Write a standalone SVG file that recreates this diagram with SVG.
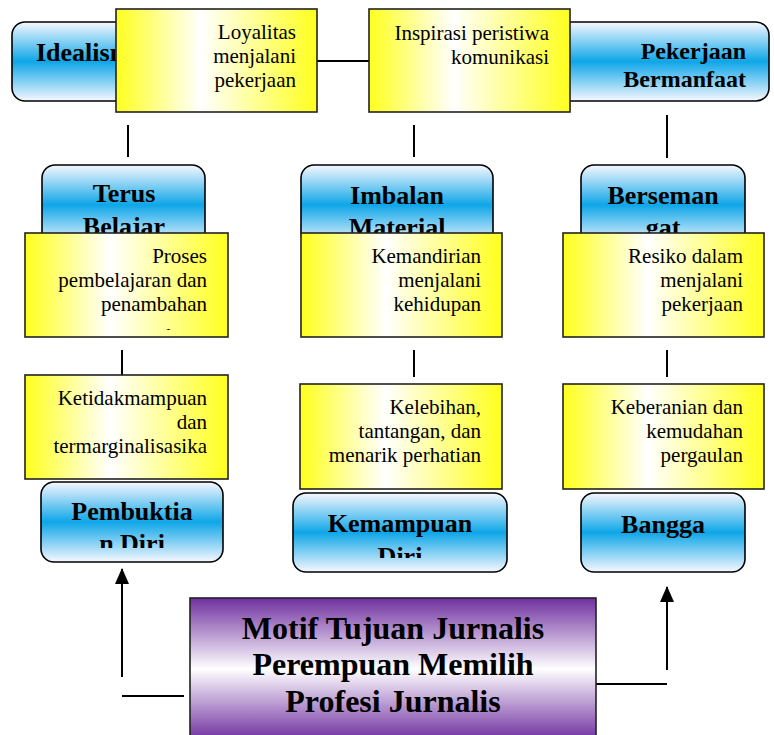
<svg xmlns="http://www.w3.org/2000/svg" width="774" height="735" viewBox="0 0 774 735">
<style>
.blue{fill:url(#gBlue);stroke:#000;stroke-width:1.6}
.yel{fill:url(#gYel);stroke:#222;stroke-width:1.6}
.pur{fill:url(#gPur);stroke:#222;stroke-width:1.6}
text{font-family:"Liberation Serif","DejaVu Serif","Times New Roman",serif}
.t{font-size:21px;fill:#000;text-anchor:end}
.b{font-weight:bold;font-size:26px;fill:#000;text-anchor:middle}
.h{font-weight:bold;font-size:32px;fill:#000;text-anchor:middle}
.ln{stroke:#000;stroke-width:2;fill:none}
</style>
<defs>
<linearGradient id="gBlue" x1="0" y1="0" x2="0" y2="1">
<stop offset="0" stop-color="#f7f8ff"/>
<stop offset="0.5" stop-color="#0ea6e8"/>
<stop offset="1" stop-color="#f7f8ff"/>
</linearGradient>
<linearGradient id="gYel" x1="0" y1="0" x2="1" y2="0">
<stop offset="0" stop-color="#ffff1e"/>
<stop offset="0.42" stop-color="#ffffff"/>
<stop offset="1" stop-color="#ffff1e"/>
</linearGradient>
<linearGradient id="gPur" x1="0" y1="0" x2="0" y2="1">
<stop offset="0" stop-color="#7030a0"/>
<stop offset="0.5" stop-color="#ffffff"/>
<stop offset="1" stop-color="#7030a0"/>
</linearGradient>
<marker id="arr" markerWidth="16" markerHeight="14" refX="15" refY="7" orient="auto" markerUnits="userSpaceOnUse" viewBox="0 0 16 14">
<path d="M0,0 L16,7 L0,14 z" fill="#000"/>
</marker>
<clipPath id="cPemb"><rect x="41" y="482" width="182" height="66"/></clipPath>
<clipPath id="cKem"><rect x="293" y="493" width="214" height="65"/></clipPath>
<clipPath id="cProses"><rect x="25" y="233" width="203" height="97"/></clipPath>
</defs>

<g id="connectors">
<line class="ln" x1="317" y1="61" x2="369" y2="61"/>
<line class="ln" x1="128" y1="125" x2="128" y2="157"/>
<line class="ln" x1="414" y1="125" x2="414" y2="157"/>
<line class="ln" x1="667" y1="115" x2="667" y2="158"/>
<line class="ln" x1="122" y1="350" x2="122" y2="377"/>
<line class="ln" x1="414" y1="350" x2="414" y2="377"/>
<line class="ln" x1="667" y1="350" x2="667" y2="377"/>
<line class="ln" x1="122" y1="677" x2="122" y2="569" marker-end="url(#arr)" stroke-width="2.6"/>
<line class="ln" x1="667" y1="670" x2="667" y2="587" marker-end="url(#arr)" stroke-width="2.6"/>
<line class="ln" x1="122" y1="696" x2="184" y2="696"/>
<line class="ln" x1="596" y1="684" x2="667" y2="684"/>
</g>

<g id="idealisme">
<rect class="blue" x="12" y="22" width="150" height="79" rx="13"/>
<text class="b" x="36" y="61" style="text-anchor:start">Idealisme</text>
</g>
<g id="pekerjaan-bermanfaat">
<rect class="blue" x="540" y="22" width="229" height="79" rx="13"/>
<text class="b" x="746" y="59" style="text-anchor:end;font-size:24px">Pekerjaan</text>
<text class="b" x="746" y="87" style="text-anchor:end;font-size:24px">Bermanfaat</text>
</g>
<g id="loyalitas">
<rect class="yel" x="116" y="9" width="201" height="103"/>
<text class="t" x="296" y="39">Loyalitas</text>
<text class="t" x="296" y="63">menjalani</text>
<text class="t" x="296" y="87">pekerjaan</text>
</g>
<g id="inspirasi">
<rect class="yel" x="369" y="9" width="201" height="103"/>
<text class="t" x="549" y="40">Inspirasi peristiwa</text>
<text class="t" x="549" y="64">komunikasi</text>
</g>

<g id="terus-belajar">
<rect class="blue" x="42" y="165" width="163" height="80" rx="13"/>
<text class="b" x="124" y="202">Terus</text>
<text class="b" x="124" y="235">Belajar</text>
</g>
<g id="imbalan-material">
<rect class="blue" x="301" y="165" width="192" height="80" rx="13"/>
<text class="b" x="397" y="204">Imbalan</text>
<text class="b" x="397" y="236">Material</text>
</g>
<g id="bersemangat">
<rect class="blue" x="581" y="165" width="164" height="80" rx="13"/>
<text class="b" x="663" y="204">Berseman</text>
<text class="b" x="663" y="236">gat</text>
</g>
<g id="proses">
<rect class="yel" x="25" y="233" width="203" height="104"/>
<g clip-path="url(#cProses)">
<text class="t" x="207" y="263">Proses</text>
<text class="t" x="207" y="287">pembelajaran dan</text>
<text class="t" x="207" y="311">penambahan</text>
<text class="t" x="207" y="343">pengetahuan</text>
</g>
</g>
<g id="kemandirian">
<rect class="yel" x="301" y="233" width="201" height="104"/>
<text class="t" x="481" y="263">Kemandirian</text>
<text class="t" x="481" y="287">menjalani</text>
<text class="t" x="481" y="311">kehidupan</text>
</g>
<g id="resiko">
<rect class="yel" x="563" y="233" width="201" height="104"/>
<text class="t" x="743" y="263">Resiko dalam</text>
<text class="t" x="743" y="287">menjalani</text>
<text class="t" x="743" y="311">pekerjaan</text>
</g>

<g id="ketidakmampuan">
<rect class="yel" x="25" y="375" width="203" height="104"/>
<text class="t" x="207" y="405">Ketidakmampuan</text>
<text class="t" x="207" y="429">dan</text>
<text class="t" x="207" y="453">termarginalisasika</text>
</g>
<g id="kelebihan">
<rect class="yel" x="300" y="384" width="202" height="105"/>
<text class="t" x="481" y="414">Kelebihan,</text>
<text class="t" x="481" y="438">tantangan, dan</text>
<text class="t" x="481" y="462">menarik perhatian</text>
</g>
<g id="keberanian">
<rect class="yel" x="563" y="384" width="201" height="105"/>
<text class="t" x="743" y="414">Keberanian dan</text>
<text class="t" x="743" y="438">kemudahan</text>
<text class="t" x="743" y="462">pergaulan</text>
</g>

<g id="pembuktian-diri">
<rect class="blue" x="41" y="482" width="182" height="80" rx="13"/>
<g clip-path="url(#cPemb)">
<text class="b" x="132" y="520">Pembuktia</text>
<text class="b" x="132" y="552">n Diri</text>
</g>
</g>
<g id="kemampuan-diri">
<rect class="blue" x="293" y="493" width="214" height="79" rx="13"/>
<g clip-path="url(#cKem)">
<text class="b" x="400" y="532">Kemampuan</text>
<text class="b" x="400" y="565">Diri</text>
</g>
</g>
<g id="bangga">
<rect class="blue" x="581" y="493" width="164" height="79" rx="13"/>
<text class="b" x="663" y="533">Bangga</text>
</g>

<g id="motif">
<rect class="pur" x="190" y="598" width="406" height="142"/>
<text class="h" x="393" y="639">Motif Tujuan Jurnalis</text>
<text class="h" x="393" y="675">Perempuan Memilih</text>
<text class="h" x="393" y="712">Profesi Jurnalis</text>
</g>
</svg>
